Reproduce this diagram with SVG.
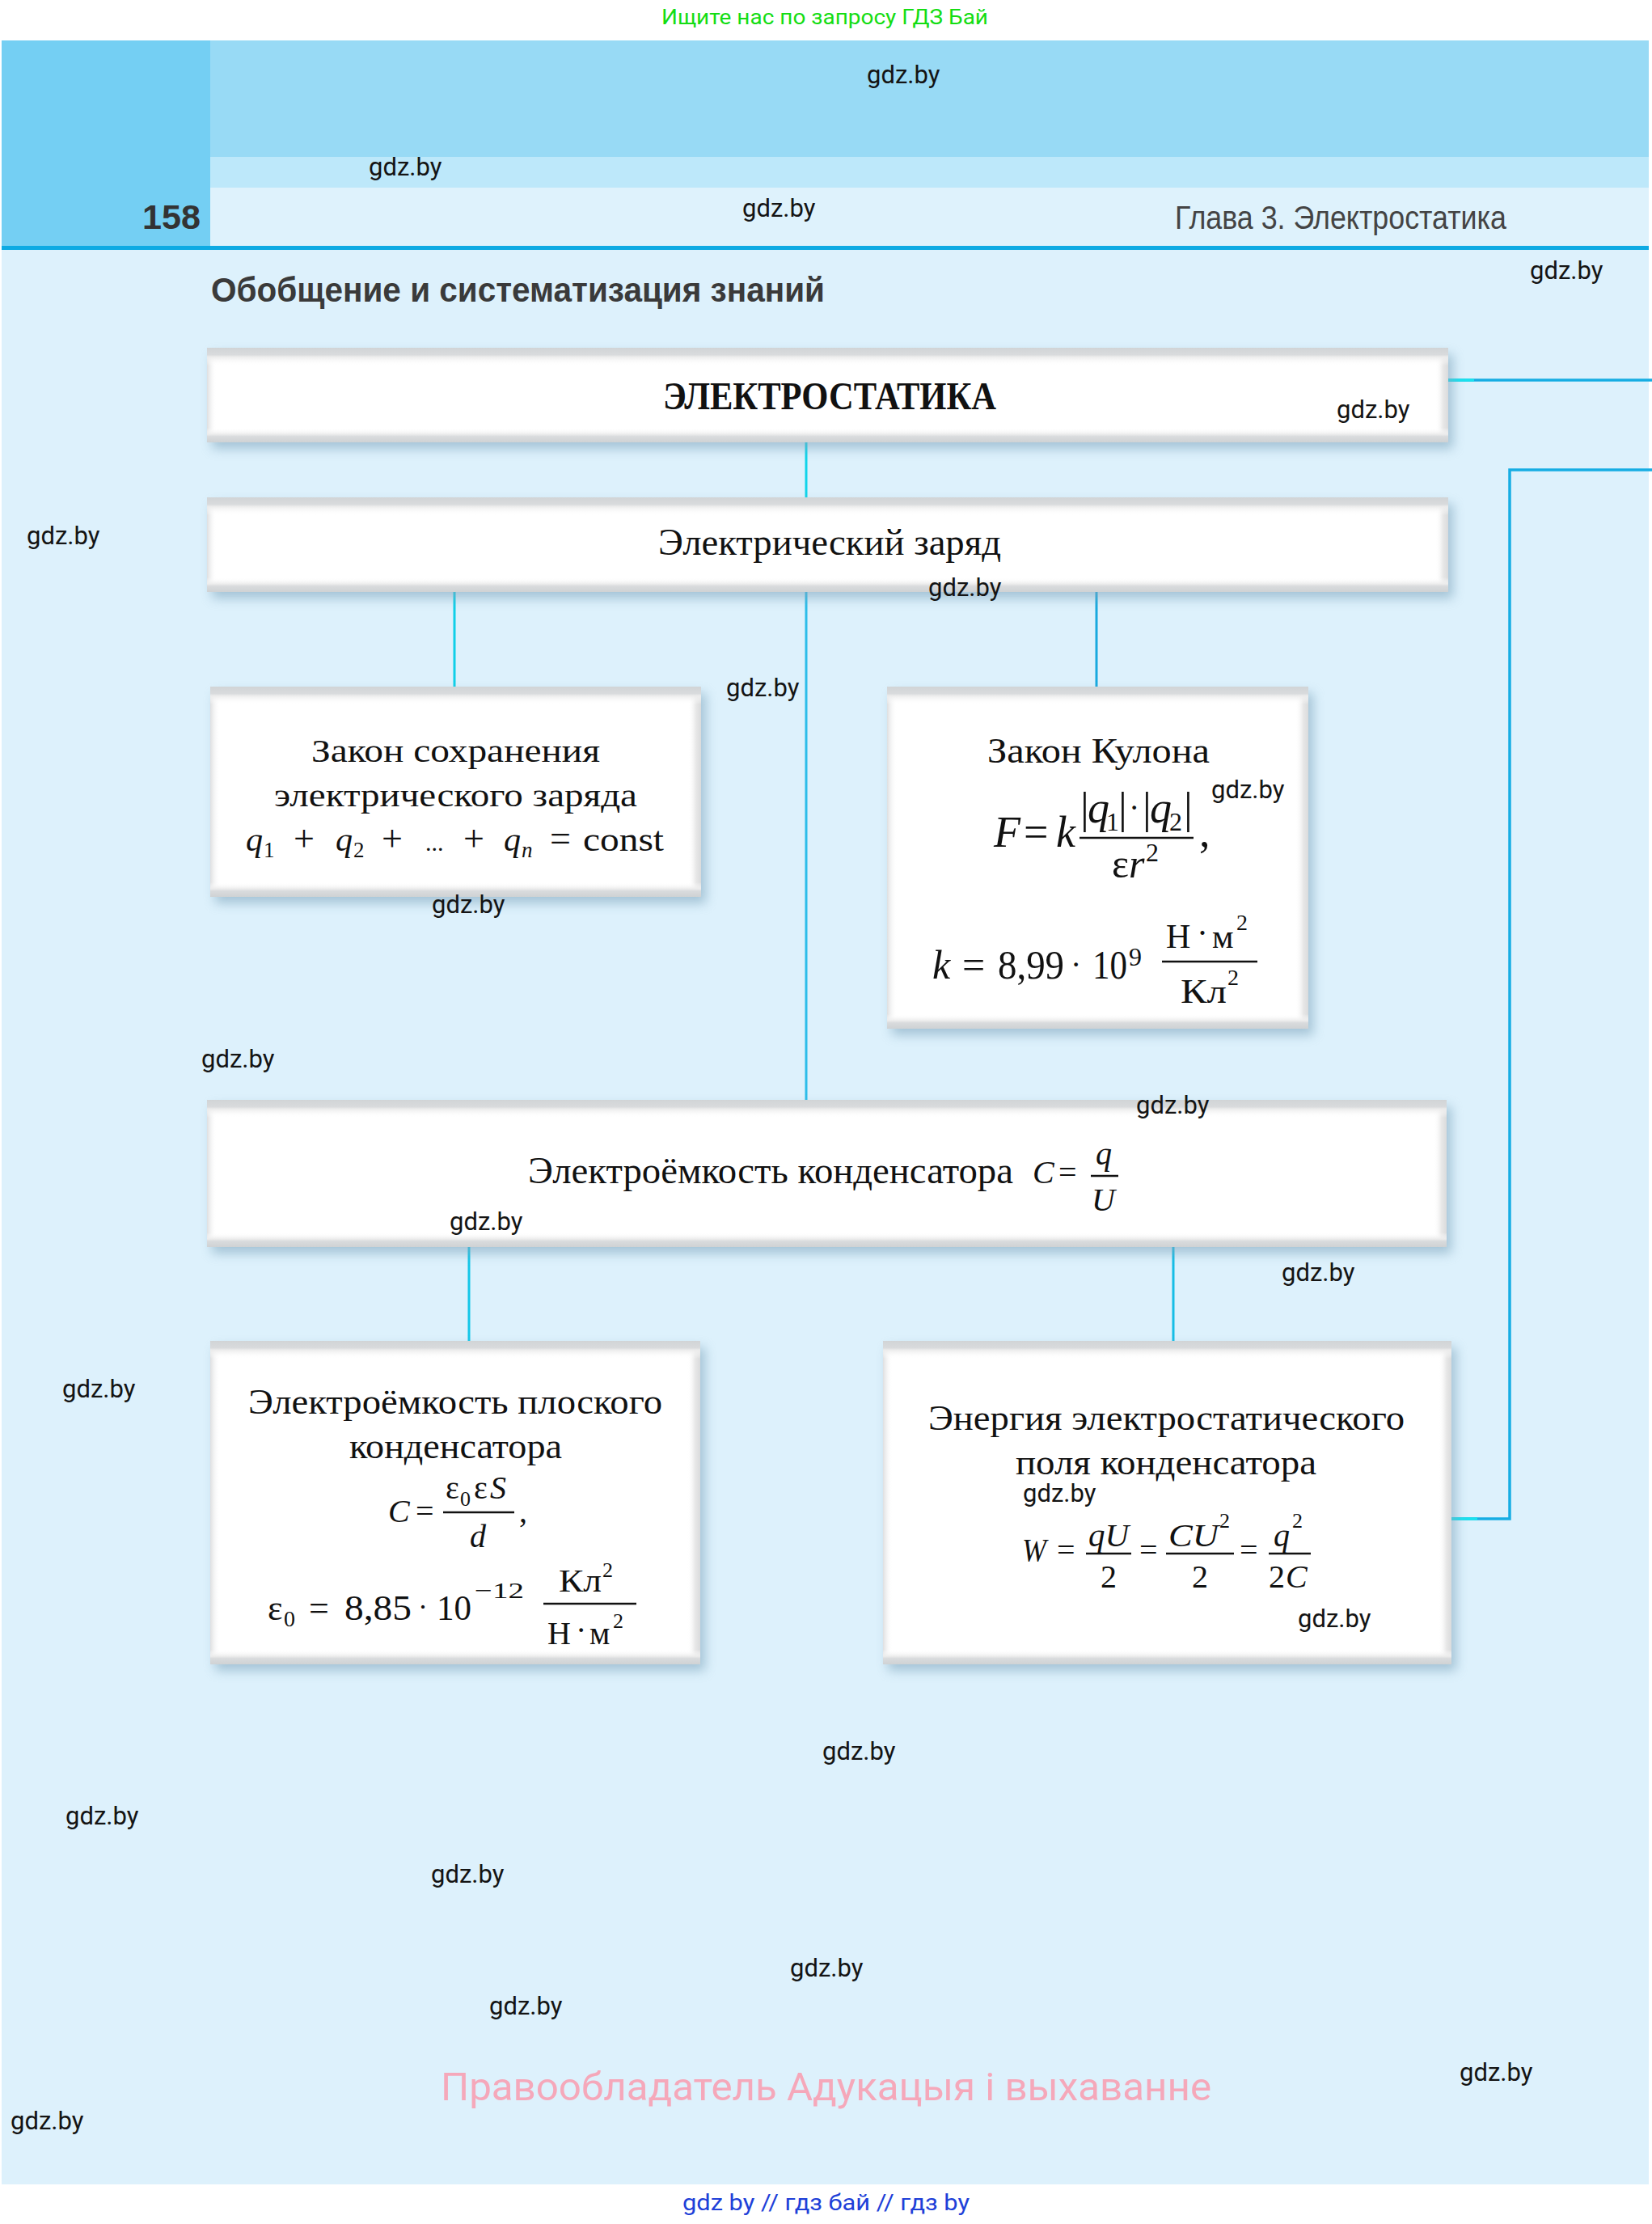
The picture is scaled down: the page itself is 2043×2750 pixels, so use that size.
<svg xmlns="http://www.w3.org/2000/svg" width="2043" height="2750" viewBox="0 0 2043 2750">
<defs>
<style>
.wm{font-family:Roboto,"Liberation Sans",sans-serif;font-size:31px;fill:#141414}
.sr{font-family:"Liberation Serif","DejaVu Serif",serif;fill:#111}
.it{font-style:italic}
.hd{font-family:"Liberation Sans",Roboto,sans-serif}
.ln{stroke-width:3;fill:none}
.bar{stroke:#111;stroke-width:2.6}
.sh{fill:#7fa6bd;opacity:0.6}
</style>
<linearGradient id="gt" x1="0" y1="0" x2="0" y2="1">
<stop offset="0" stop-color="#d1d4d6"/><stop offset="0.4" stop-color="#d9dbdd"/><stop offset="0.5" stop-color="#ebebeb"/><stop offset="1" stop-color="#ffffff" stop-opacity="0"/>
</linearGradient>
<linearGradient id="gb" x1="0" y1="0" x2="0" y2="1">
<stop offset="0" stop-color="#ffffff" stop-opacity="0"/><stop offset="0.45" stop-color="#ececec"/><stop offset="0.6" stop-color="#d9dbdd"/><stop offset="1" stop-color="#cfd2d4"/>
</linearGradient>
<linearGradient id="gl" x1="0" y1="0" x2="1" y2="0">
<stop offset="0" stop-color="#dedfe0"/><stop offset="1" stop-color="#ffffff" stop-opacity="0"/>
</linearGradient>
<linearGradient id="gr" x1="0" y1="0" x2="1" y2="0">
<stop offset="0" stop-color="#ffffff" stop-opacity="0"/><stop offset="0.6" stop-color="#e8e8e8"/><stop offset="1" stop-color="#dadbdc"/>
</linearGradient>
<filter id="bl" x="-10%" y="-30%" width="120%" height="160%"><feGaussianBlur stdDeviation="7"/></filter>
</defs>

<rect x="0" y="0" width="2043" height="2750" fill="#ffffff"/>
<rect x="2" y="50" width="2037" height="2651" fill="#ddf1fc"/>

<g id="header">
<rect x="260" y="50" width="1779" height="144" fill="#98daf5"/>
<rect x="260" y="194" width="1779" height="38" fill="#bde8fa"/>
<rect x="260" y="232" width="1779" height="72" fill="#def2fc"/>
<rect x="2" y="50" width="258" height="254" fill="#74cff3"/>
<rect x="2" y="304" width="2037" height="5" fill="#0eaae3"/>
<text class="hd" x="176" y="283" font-size="42" font-weight="bold" fill="#333" textLength="72" lengthAdjust="spacingAndGlyphs">158</text>
<text class="hd" x="1453" y="283" font-size="40" fill="#444" textLength="410" lengthAdjust="spacingAndGlyphs">Глава 3. Электростатика</text>
<text class="hd" x="261" y="373" font-size="43" font-weight="bold" fill="#3a3a3a" textLength="759" lengthAdjust="spacingAndGlyphs">Обобщение и систематизация знаний</text>
<text x="818" y="30" font-family="Roboto,'Liberation Sans',sans-serif" font-size="26" fill="#14dd14" textLength="404" lengthAdjust="spacingAndGlyphs">Ищите нас по запросу ГДЗ Бай</text>
</g>

<g id="connectors">
<line class="ln" x1="997" y1="547" x2="997" y2="615" stroke="#10d4ea"/>
<line class="ln" x1="562" y1="732" x2="562" y2="849" stroke="#10cfe8"/>
<line class="ln" x1="997" y1="732" x2="997" y2="1360" stroke="#2cbde9"/>
<line class="ln" x1="1356" y1="732" x2="1356" y2="849" stroke="#18a9df"/>
<line class="ln" x1="580" y1="1542" x2="580" y2="1658" stroke="#14c6e8"/>
<line class="ln" x1="1451" y1="1542" x2="1451" y2="1658" stroke="#16bde6"/>
<line x1="1791" y1="470" x2="2043" y2="470" stroke="#16ade3" stroke-width="3.5"/>
<line x1="1791" y1="470" x2="1823" y2="470" stroke="#19e2ee" stroke-width="3.5"/>
<polyline points="1795,1878 1867,1878 1867,581 2043,581" fill="none" stroke="#16ade3" stroke-width="3.5"/>
<line x1="1795" y1="1878" x2="1827" y2="1878" stroke="#19e2ee" stroke-width="3.5"/>
</g>

<g id="n-electrostatics">
<rect class="sh" x="262" y="438" width="1535" height="117" filter="url(#bl)"/>
<rect x="256" y="430" width="1535" height="117" fill="#fff"/>
<rect x="256" y="430" width="12" height="117" fill="url(#gl)"/>
<rect x="1775" y="430" width="16" height="117" fill="url(#gr)"/>
<rect x="256" y="430" width="1535" height="22" fill="url(#gt)"/>
<rect x="256" y="529" width="1535" height="18" fill="url(#gb)"/>
<text class="sr" x="820" y="506" font-size="48" font-weight="bold" textLength="412" lengthAdjust="spacingAndGlyphs">ЭЛЕКТРОСТАТИКА</text>
</g>

<g id="n-charge">
<rect class="sh" x="262" y="623" width="1535" height="117" filter="url(#bl)"/>
<rect x="256" y="615" width="1535" height="117" fill="#fff"/>
<rect x="256" y="615" width="12" height="117" fill="url(#gl)"/>
<rect x="1775" y="615" width="16" height="117" fill="url(#gr)"/>
<rect x="256" y="615" width="1535" height="22" fill="url(#gt)"/>
<rect x="256" y="714" width="1535" height="18" fill="url(#gb)"/>
<text class="sr" x="814" y="686" font-size="47" fill="#3a3a3a" textLength="424" lengthAdjust="spacingAndGlyphs">Электрический заряд</text>
</g>

<g id="n-conservation">
<rect class="sh" x="266" y="857" width="607" height="260" filter="url(#bl)"/>
<rect x="260" y="849" width="607" height="260" fill="#fff"/>
<rect x="260" y="849" width="12" height="260" fill="url(#gl)"/>
<rect x="851" y="849" width="16" height="260" fill="url(#gr)"/>
<rect x="260" y="849" width="607" height="22" fill="url(#gt)"/>
<rect x="260" y="1091" width="607" height="18" fill="url(#gb)"/>
<text class="sr" x="385" y="942" font-size="39" textLength="357" lengthAdjust="spacingAndGlyphs">Закон сохранения</text>
<text class="sr" x="339" y="997" font-size="39" textLength="449" lengthAdjust="spacingAndGlyphs">электрического заряда</text>
<text class="sr" font-size="42" y="1052">
<tspan class="it" x="304">q</tspan><tspan x="326" y="1060" font-size="27">1</tspan><tspan x="363" y="1052" font-size="46">+</tspan><tspan class="it" x="415">q</tspan><tspan x="437" y="1060" font-size="27">2</tspan><tspan x="472" y="1052" font-size="46">+</tspan><tspan x="526" font-size="30">...</tspan><tspan x="573" font-size="46">+</tspan><tspan class="it" x="623">q</tspan><tspan class="it" x="645" y="1060" font-size="27">n</tspan><tspan x="680" y="1052" font-size="46">=</tspan><tspan x="721" textLength="100" lengthAdjust="spacingAndGlyphs">const</tspan>
</text>
</g>

<g id="n-coulomb">
<rect class="sh" x="1103" y="857" width="521" height="423" filter="url(#bl)"/>
<rect x="1097" y="849" width="521" height="423" fill="#fff"/>
<rect x="1097" y="849" width="12" height="423" fill="url(#gl)"/>
<rect x="1602" y="849" width="16" height="423" fill="url(#gr)"/>
<rect x="1097" y="849" width="521" height="22" fill="url(#gt)"/>
<rect x="1097" y="1254" width="521" height="18" fill="url(#gb)"/>
<text class="sr" x="1221" y="943" font-size="45" textLength="275" lengthAdjust="spacingAndGlyphs">Закон Кулона</text>
<text class="sr" font-size="54" y="1047"><tspan class="it" x="1229">F</tspan><tspan x="1266">=</tspan><tspan class="it" x="1306">k</tspan><tspan x="1483">,</tspan></text>
<text class="sr" font-size="54" y="1017"><tspan x="1336">|</tspan><tspan class="it" x="1345">q</tspan><tspan x="1368" y="1027" font-size="32">1</tspan><tspan x="1383" y="1017">|</tspan><tspan x="1396" y="1012" font-size="40">·</tspan><tspan x="1413" y="1017">|</tspan><tspan class="it" x="1422">q</tspan><tspan x="1446" y="1027" font-size="32">2</tspan><tspan x="1464" y="1017">|</tspan></text>
<line class="bar" x1="1335" y1="1036" x2="1476" y2="1036" stroke-width="3.5"/>
<text class="sr" font-size="50" y="1085"><tspan x="1375">ε</tspan><tspan class="it" x="1396">r</tspan><tspan x="1417" y="1065" font-size="32">2</tspan></text>
<text class="sr" font-size="50" y="1210"><tspan class="it" x="1153">k</tspan><tspan x="1190">=</tspan><tspan x="1234" textLength="82" lengthAdjust="spacingAndGlyphs">8,99</tspan><tspan x="1324" y="1206" font-size="40">·</tspan><tspan x="1351" y="1210" textLength="43" lengthAdjust="spacingAndGlyphs">10</tspan><tspan x="1396" y="1194" font-size="32">9</tspan></text>
<line class="bar" x1="1437" y1="1189" x2="1555" y2="1189"/>
<text class="sr" font-size="42" y="1172"><tspan x="1442">Н</tspan><tspan x="1480" y="1168">·</tspan><tspan x="1499" y="1172">м</tspan><tspan x="1529" y="1150" font-size="28">2</tspan></text>
<text class="sr" font-size="42" y="1240"><tspan x="1460" textLength="57" lengthAdjust="spacingAndGlyphs">Кл</tspan><tspan x="1518" y="1218" font-size="28">2</tspan></text>
</g>

<g id="n-capacitance">
<rect class="sh" x="262" y="1368" width="1533" height="182" filter="url(#bl)"/>
<rect x="256" y="1360" width="1533" height="182" fill="#fff"/>
<rect x="256" y="1360" width="12" height="182" fill="url(#gl)"/>
<rect x="1773" y="1360" width="16" height="182" fill="url(#gr)"/>
<rect x="256" y="1360" width="1533" height="22" fill="url(#gt)"/>
<rect x="256" y="1524" width="1533" height="18" fill="url(#gb)"/>
<text class="sr" x="653" y="1463" font-size="47" textLength="600" lengthAdjust="spacingAndGlyphs">Электроёмкость конденсатора</text>
<text class="sr" font-size="40" y="1463"><tspan class="it" x="1277">C</tspan><tspan x="1309">=</tspan></text>
<text class="sr it" x="1355" y="1440" font-size="40">q</text>
<line class="bar" x1="1349" y1="1454" x2="1383" y2="1454" stroke-width="3"/>
<text class="sr it" x="1350" y="1497" font-size="40">U</text>
</g>

<g id="n-plate">
<rect class="sh" x="266" y="1666" width="606" height="400" filter="url(#bl)"/>
<rect x="260" y="1658" width="606" height="400" fill="#fff"/>
<rect x="260" y="1658" width="12" height="400" fill="url(#gl)"/>
<rect x="850" y="1658" width="16" height="400" fill="url(#gr)"/>
<rect x="260" y="1658" width="606" height="22" fill="url(#gt)"/>
<rect x="260" y="2040" width="606" height="18" fill="url(#gb)"/>
<text class="sr" x="307" y="1748" font-size="44" textLength="512" lengthAdjust="spacingAndGlyphs">Электроёмкость плоского</text>
<text class="sr" x="432" y="1803" font-size="44" textLength="263" lengthAdjust="spacingAndGlyphs">конденсатора</text>
<text class="sr" font-size="40" y="1882"><tspan class="it" x="480">C</tspan><tspan x="514">=</tspan><tspan x="642">,</tspan></text>
<text class="sr" font-size="40" y="1853"><tspan x="551">ε</tspan><tspan x="569" y="1862" font-size="26">0</tspan><tspan x="586" y="1853">ε</tspan><tspan class="it" x="606">S</tspan></text>
<line class="bar" x1="548" y1="1870" x2="636" y2="1870"/>
<text class="sr it" x="581" y="1913" font-size="40">d</text>
<text class="sr" font-size="44" y="2003"><tspan x="331">ε</tspan><tspan x="351" y="2011" font-size="28">0</tspan><tspan x="382" y="2003">=</tspan><tspan x="426" textLength="83" lengthAdjust="spacingAndGlyphs">8,85</tspan><tspan x="517" y="1999" font-size="36">·</tspan><tspan x="540" y="2003" textLength="43" lengthAdjust="spacingAndGlyphs">10</tspan><tspan x="587" y="1976" font-size="28" textLength="61" lengthAdjust="spacingAndGlyphs">−12</tspan></text>
<line class="bar" x1="672" y1="1983" x2="787" y2="1983"/>
<text class="sr" font-size="40" y="1968"><tspan x="691" textLength="53" lengthAdjust="spacingAndGlyphs">Кл</tspan><tspan x="745" y="1950" font-size="26">2</tspan></text>
<text class="sr" font-size="40" y="2033"><tspan x="677">Н</tspan><tspan x="712" y="2029">·</tspan><tspan x="729" y="2033">м</tspan><tspan x="758" y="2013" font-size="26">2</tspan></text>
</g>

<g id="n-energy">
<rect class="sh" x="1098" y="1666" width="703" height="400" filter="url(#bl)"/>
<rect x="1092" y="1658" width="703" height="400" fill="#fff"/>
<rect x="1092" y="1658" width="12" height="400" fill="url(#gl)"/>
<rect x="1779" y="1658" width="16" height="400" fill="url(#gr)"/>
<rect x="1092" y="1658" width="703" height="22" fill="url(#gt)"/>
<rect x="1092" y="2040" width="703" height="18" fill="url(#gb)"/>
<text class="sr" x="1148" y="1768" font-size="44" textLength="589" lengthAdjust="spacingAndGlyphs">Энергия электростатического</text>
<text class="sr" x="1256" y="1823" font-size="44" textLength="372" lengthAdjust="spacingAndGlyphs">поля конденсатора</text>
<text class="sr" font-size="40" y="1930"><tspan class="it" x="1264" textLength="30" lengthAdjust="spacingAndGlyphs">W</tspan><tspan x="1307">=</tspan><tspan x="1409">=</tspan><tspan x="1533">=</tspan></text>
<text class="sr it" font-size="40" y="1912"><tspan x="1346" textLength="50" lengthAdjust="spacingAndGlyphs">qU</tspan><tspan x="1445" textLength="62" lengthAdjust="spacingAndGlyphs">CU</tspan><tspan x="1508" y="1889" font-size="26" font-style="normal">2</tspan><tspan x="1575" y="1912">q</tspan><tspan x="1598" y="1889" font-size="26" font-style="normal">2</tspan></text>
<line class="bar" x1="1343" y1="1921" x2="1399" y2="1921"/>
<line class="bar" x1="1442" y1="1921" x2="1526" y2="1921"/>
<line class="bar" x1="1569" y1="1921" x2="1621" y2="1921"/>
<text class="sr" font-size="40" y="1963"><tspan x="1361">2</tspan><tspan x="1474">2</tspan><tspan x="1569">2</tspan><tspan class="it" x="1590">C</tspan></text>
</g>

<g id="watermarks">
<text class="wm" x="1072" y="103">gdz.by</text>
<text class="wm" x="456" y="217">gdz.by</text>
<text class="wm" x="918" y="268">gdz.by</text>
<text class="wm" x="1892" y="345">gdz.by</text>
<text class="wm" x="1653" y="517">gdz.by</text>
<text class="wm" x="33" y="673">gdz.by</text>
<text class="wm" x="1148" y="737">gdz.by</text>
<text class="wm" x="898" y="861">gdz.by</text>
<text class="wm" x="1498" y="987">gdz.by</text>
<text class="wm" x="534" y="1129">gdz.by</text>
<text class="wm" x="249" y="1320">gdz.by</text>
<text class="wm" x="1405" y="1377">gdz.by</text>
<text class="wm" x="556" y="1521">gdz.by</text>
<text class="wm" x="1585" y="1584">gdz.by</text>
<text class="wm" x="77" y="1728">gdz.by</text>
<text class="wm" x="1265" y="1857">gdz.by</text>
<text class="wm" x="1605" y="2012">gdz.by</text>
<text class="wm" x="1017" y="2176">gdz.by</text>
<text class="wm" x="81" y="2256">gdz.by</text>
<text class="wm" x="533" y="2328">gdz.by</text>
<text class="wm" x="977" y="2444">gdz.by</text>
<text class="wm" x="605" y="2491">gdz.by</text>
<text class="wm" x="1805" y="2573">gdz.by</text>
<text class="wm" x="13" y="2633">gdz.by</text>
</g>

<g id="footer">
<text x="545" y="2597" font-family="Roboto,'Liberation Sans',sans-serif" font-size="48" fill="#f5a8ba" textLength="953" lengthAdjust="spacingAndGlyphs">Правообладатель Адукацыя і выхаванне</text>
<text x="844" y="2733" font-family="Roboto,'Liberation Sans',sans-serif" font-size="27" fill="#2040d8" textLength="355" lengthAdjust="spacingAndGlyphs">gdz by  //  гдз бай  //  гдз by</text>
</g>
</svg>
